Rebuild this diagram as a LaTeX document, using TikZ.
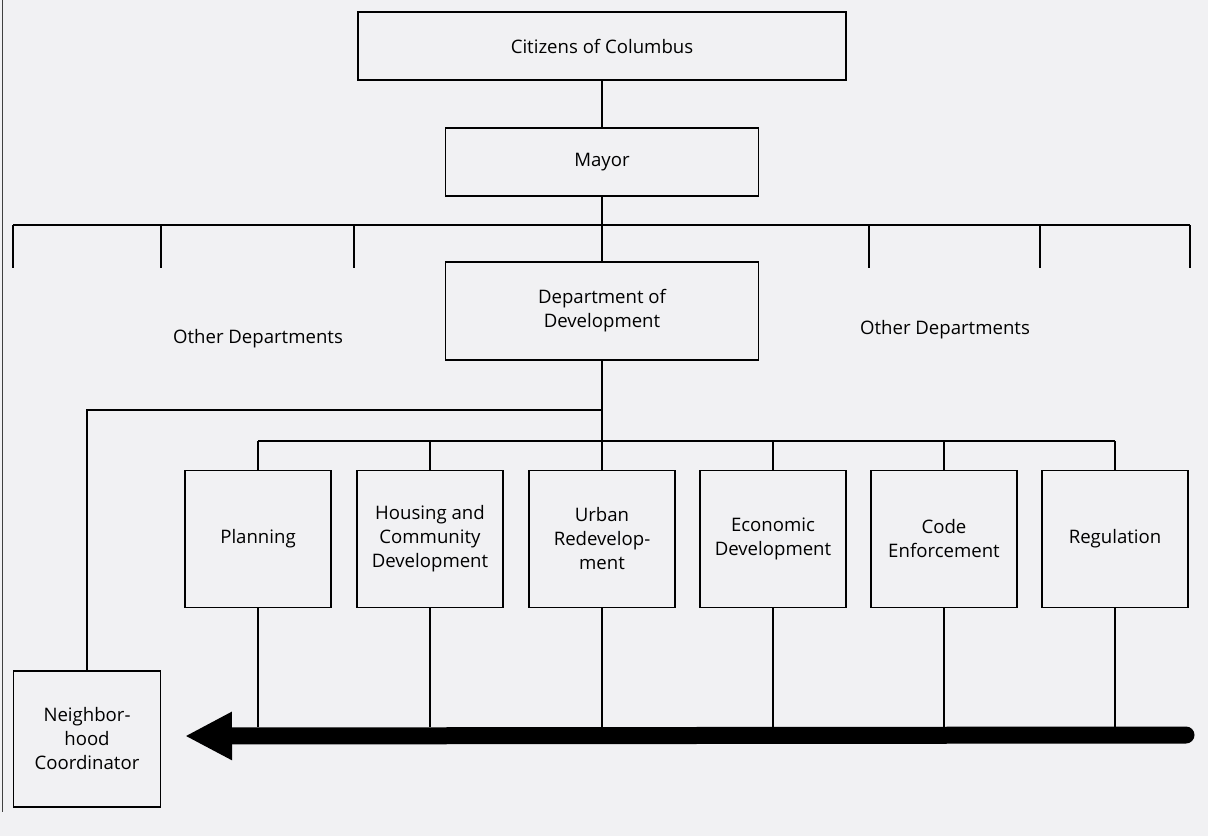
\documentclass[tikz,border=0pt]{standalone}
\usepackage{fontspec}
\setmainfont{Open Sans}
\usetikzlibrary{arrows.meta}

\definecolor{pagegray}{RGB}{241,241,243}
\tikzset{
    unit/.style={draw, line width=1.8pt, minimum width=146pt,
        minimum height=137pt, align=center, inner sep=2pt},
    link/.style={line width=1.4pt},
}

\begin{document}
\begin{tikzpicture}[x=1pt, y=-1pt, font=\fontsize{18.6}{24}\selectfont]
    \useasboundingbox (0,0) rectangle (1208,836);
    \fill[pagegray] (0,0) rectangle (1208,836);
    \draw[gray!50!black, line width=1pt] (2,0) -- (2,812);  % page edge

    % top of the chain
    \node[unit, minimum width=488pt, minimum height=68pt] (citizens) at (602,46) {Citizens of Columbus};
    \node[unit, minimum width=313pt, minimum height=68pt] (mayor) at (602,162) {Mayor};
    \node[unit, minimum width=313pt, minimum height=98pt] (devdept) at (602,311) {Department of\\Development};
    \node (otherL) at (258,339) {Other Departments};
    \node (otherR) at (945,330) {Other Departments};

    % divisions
    \foreach \name/\x/\txt in {planning/258/{Planning},
        housing/430/{Housing and\\Community\\Development},
        urban/602/{Urban\\Redevelop-\\ment},
        econ/773/{Economic\\Development},
        code/944/{Code\\Enforcement},
        regul/1115/{Regulation}}
        \node[unit] (\name) at (\x,539) {\txt};

    \node[unit, minimum width=147pt, minimum height=136pt] (coordinator) at (87,739) {Neighbor-\\hood\\Coordinator};

    % spine
    \draw[link] (citizens.south) -- (mayor.north);
    \draw[link] (mayor.south) -- (devdept.north);
    \draw[link] (devdept.south) -- (urban.north);

    % departments bar
    \coordinate (barL) at (13,225);
    \coordinate (barR) at (1190,225);
    \draw[link] (barL) -- (barR);
    \foreach \x in {13,161,354,869,1040,1190}
        \draw[link] (\x,225) -- (\x,268);

    % to the coordinator
    \coordinate (branch) at (602,410);
    \draw[link] (coordinator.north) |- (branch);

    % divisions bar
    \draw[link] (planning.north |- 0,441) -- (regul.north |- 0,441);
    \foreach \name in {planning,housing,code,econ,regul}
        \draw[link] (\name.north) -- (\name.north |- 0,441);

    % flow to the coordinator
    \coordinate (arrowR) at (1186,735);
    \coordinate (arrowL) at (185,736);
    \foreach \name in {planning,housing,urban,econ,code,regul}
        \draw[link] (\name.south) -- (\name.south |- 0,727);
    \draw[line width=17pt, line cap=round, -{Triangle[length=47pt,width=45pt]}]
        (arrowR) -- (arrowL);
\end{tikzpicture}
\end{document}
